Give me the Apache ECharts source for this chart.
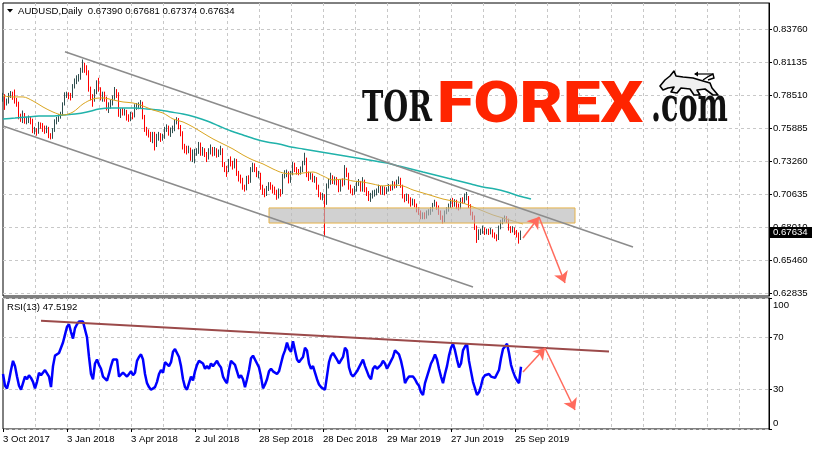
<!DOCTYPE html>
<html><head><meta charset="utf-8">
<script src="https://cdn.jsdelivr.net/npm/echarts@6/dist/echarts.min.js"></script>
<style>html,body{margin:0;padding:0;background:#fff}#c{width:815px;height:450px}</style>
</head><body><div id="c"></div>
<script>
// ---------- chart data ----------
const symbolTitle = 'AUDUSD,Daily';
const headerValues = '0.67390 0.67681 0.67374 0.67634';
const rsiTitle = 'RSI(13) 47.5192';
const lastPrice = 0.67634;
const dateLabels = ['3 Oct 2017','3 Jan 2018','3 Apr 2018','2 Jul 2018','28 Sep 2018','28 Dec 2018','29 Mar 2019','27 Jun 2019','25 Sep 2019'];
const priceTickValues = [0.62760,0.65385,0.68010,0.70635,0.73260,0.75885,0.78510,0.81135,0.83760];
const priceTickLabels = ['0.62835','0.65460','0.68010','0.70635','0.73260','0.75885','0.78510','0.81135','0.83760'];
const rsiTickValues = [0,30,70,100];

// each candle = 2 trading days
const opens = [
.7825,.7840,.7790,.7800,.7850,.7860,.7840,.7800,.7790,.7680,
.7670,.7690,.7650,.7650,.7660,.7650,.7570,.7570,.7560,.7620,
.7610,.7580,.7570,.7590,.7530,.7520,.7570,.7640,.7660,.7680,
.7700,.7780,.7860,.7860,.7850,.7840,.7920,.7960,.7980,.7990,
.8050,.8100,.8050,.8040,.7900,.7840,.7820,.7880,.7950,.7900,
.7830,.7850,.7820,.7760,.7770,.7790,.7830,.7890,.7860,.7700,
.7720,.7710,.7720,.7680,.7670,.7700,.7690,.7760,.7760,.7770,
.7790,.7680,.7580,.7560,.7540,.7500,.7540,.7460,.7520,.7530,
.7510,.7520,.7580,.7590,.7550,.7570,.7580,.7640,.7660,.7600,
.7550,.7440,.7420,.7410,.7420,.7350,.7400,.7400,.7400,.7460,
.7390,.7410,.7380,.7360,.7400,.7420,.7390,.7410,.7380,.7390,
.7420,.7300,.7270,.7260,.7320,.7310,.7290,.7330,.7230,.7190,
.7180,.7120,.7110,.7190,.7170,.7260,.7300,.7260,.7220,.7220,
.7120,.7090,.7080,.7110,.7130,.7120,.7100,.7090,.7060,.7090,
.7080,.7210,.7230,.7230,.7170,.7230,.7300,.7260,.7250,.7240,
.7260,.7310,.7340,.7220,.7200,.7210,.7180,.7180,.7120,.7060,
.7050,.7050,.7000,.7130,.7160,.7200,.7170,.7180,.7160,.7100,
.7170,.7150,.7260,.7220,.7120,.7090,.7080,.7100,.7150,.7160,
.7100,.7170,.7100,.7070,.7040,.7050,.7070,.7070,.7090,.7110,
.7080,.7110,.7080,.7100,.7120,.7110,.7150,.7130,.7160,.7190,
.7130,.7050,.7030,.7050,.7020,.7000,.7010,.6980,.6940,.6920,
.6880,.6900,.6880,.6920,.6920,.6940,.6980,.6990,.6960,.6920,
.6880,.6850,.6920,.6940,.6970,.7020,.6980,.7010,.6970,.6960,
.7020,.7010,.7040,.7040,.6970,.6910,.6880,.6800,.6740,.6760,
.6770,.6790,.6760,.6770,.6760,.6770,.6740,.6730,.6710,.6800,
.6840,.6860,.6880,.6860,.6790,.6770,.6790,.6760,.6750,.6710];
const closes = [
.7840,.7790,.7800,.7850,.7860,.7840,.7800,.7790,.7680,.7670,
.7690,.7650,.7650,.7660,.7650,.7570,.7570,.7560,.7620,.7610,
.7580,.7570,.7590,.7530,.7520,.7570,.7640,.7660,.7680,.7700,
.7780,.7860,.7860,.7850,.7840,.7920,.7960,.7980,.7990,.8050,
.8100,.8050,.8040,.7900,.7840,.7820,.7880,.7950,.7900,.7830,
.7850,.7820,.7760,.7770,.7790,.7830,.7890,.7860,.7700,.7720,
.7710,.7720,.7680,.7670,.7700,.7690,.7760,.7760,.7770,.7790,
.7680,.7580,.7560,.7540,.7500,.7540,.7460,.7520,.7530,.7510,
.7520,.7580,.7590,.7550,.7570,.7580,.7640,.7660,.7600,.7550,
.7440,.7420,.7410,.7420,.7350,.7400,.7400,.7400,.7460,.7390,
.7410,.7380,.7360,.7400,.7420,.7390,.7410,.7380,.7390,.7420,
.7300,.7270,.7260,.7320,.7310,.7290,.7330,.7230,.7190,.7180,
.7120,.7110,.7190,.7170,.7260,.7300,.7260,.7220,.7220,.7120,
.7090,.7080,.7110,.7130,.7120,.7100,.7090,.7060,.7090,.7080,
.7210,.7230,.7230,.7170,.7230,.7300,.7260,.7250,.7240,.7260,
.7310,.7340,.7220,.7200,.7210,.7180,.7180,.7120,.7060,.7050,
.7050,.7000,.7130,.7160,.7200,.7170,.7180,.7160,.7100,.7170,
.7150,.7260,.7220,.7120,.7090,.7080,.7100,.7150,.7160,.7100,
.7170,.7100,.7070,.7040,.7050,.7070,.7070,.7090,.7110,.7080,
.7110,.7080,.7100,.7120,.7110,.7150,.7130,.7160,.7190,.7130,
.7050,.7030,.7050,.7020,.7000,.7010,.6980,.6940,.6920,.6880,
.6900,.6880,.6920,.6920,.6940,.6980,.6990,.6960,.6920,.6880,
.6850,.6920,.6940,.6970,.7020,.6980,.7010,.6970,.6960,.7020,
.7010,.7040,.7040,.6970,.6910,.6880,.6800,.6740,.6760,.6770,
.6790,.6760,.6770,.6760,.6770,.6740,.6730,.6710,.6800,.6840,
.6860,.6880,.6860,.6790,.6770,.6790,.6760,.6750,.6710,.67634];
const highs = [
.7870,.7860,.7825,.7870,.7885,.7880,.7897,.7830,.7800,.7705,
.7730,.7710,.7680,.7690,.7680,.7665,.7600,.7590,.7640,.7635,
.7630,.7610,.7610,.7600,.7550,.7590,.7660,.7680,.7700,.7720,
.7795,.7875,.7880,.7875,.7870,.7940,.7985,.8010,.8020,.8070,
.8136,.8110,.8090,.8050,.7920,.7860,.7900,.7970,.7990,.7915,
.7880,.7880,.7840,.7795,.7815,.7850,.7917,.7900,.7875,.7745,
.7750,.7745,.7735,.7700,.7720,.7715,.7780,.7790,.7795,.7813,
.7800,.7695,.7600,.7580,.7560,.7560,.7560,.7545,.7560,.7550,
.7545,.7600,.7620,.7610,.7595,.7610,.7660,.7677,.7670,.7615,
.7565,.7465,.7450,.7450,.7435,.7420,.7425,.7430,.7480,.7475,
.7440,.7430,.7400,.7430,.7460,.7440,.7440,.7430,.7420,.7450,
.7430,.7320,.7290,.7345,.7365,.7330,.7350,.7345,.7250,.7220,
.7195,.7140,.7210,.7215,.7280,.7315,.7310,.7280,.7250,.7235,
.7140,.7110,.7130,.7160,.7160,.7140,.7125,.7100,.7110,.7105,
.7225,.7255,.7260,.7245,.7250,.7320,.7315,.7280,.7265,.7285,
.7330,.7394,.7355,.7245,.7240,.7230,.7210,.7200,.7140,.7080,
.7075,.7065,.7150,.7185,.7235,.7215,.7205,.7200,.7180,.7185,
.7190,.7296,.7275,.7235,.7140,.7110,.7130,.7170,.7185,.7170,
.7200,.7180,.7120,.7090,.7075,.7095,.7100,.7110,.7140,.7130,
.7130,.7125,.7120,.7145,.7140,.7170,.7165,.7180,.7206,.7195,
.7140,.7065,.7070,.7065,.7040,.7030,.7025,.6990,.6960,.6935,
.6920,.6920,.6935,.6945,.6960,.6995,.7020,.7005,.6975,.6935,
.6895,.6935,.6960,.6990,.7030,.7035,.7025,.7020,.6990,.7035,
.7040,.7070,.7082,.7050,.6985,.6925,.6895,.6815,.6785,.6790,
.6815,.6800,.6790,.6790,.6795,.6785,.6760,.6745,.6815,.6860,
.6875,.6895,.6890,.6870,.6810,.6810,.6800,.6780,.6760,.6775];
const lows = [
.7800,.7735,.7770,.7785,.7830,.7815,.7785,.7760,.7660,.7640,
.7630,.7625,.7620,.7630,.7620,.7550,.7540,.7530,.7545,.7585,
.7560,.7545,.7550,.7510,.7500,.7505,.7560,.7620,.7640,.7665,
.7690,.7770,.7830,.7820,.7810,.7830,.7905,.7940,.7960,.7975,
.8030,.8030,.8010,.7880,.7810,.7760,.7800,.7860,.7880,.7810,
.7800,.7800,.7730,.7710,.7745,.7770,.7815,.7830,.7680,.7670,
.7690,.7690,.7650,.7640,.7645,.7660,.7675,.7735,.7740,.7750,
.7660,.7560,.7530,.7515,.7480,.7470,.7412,.7440,.7490,.7480,
.7490,.7505,.7560,.7530,.7520,.7550,.7565,.7620,.7580,.7525,
.7420,.7390,.7380,.7390,.7330,.7320,.7310,.7370,.7385,.7370,
.7370,.7360,.7320,.7340,.7380,.7365,.7370,.7355,.7360,.7375,
.7280,.7240,.7202,.7240,.7285,.7260,.7270,.7210,.7165,.7150,
.7100,.7085,.7095,.7145,.7155,.7240,.7240,.7200,.7190,.7100,
.7060,.7040,.7050,.7090,.7100,.7070,.7060,.7020,.7030,.7045,
.7065,.7190,.7200,.7150,.7155,.7215,.7240,.7220,.7215,.7220,
.7240,.7295,.7200,.7170,.7180,.7160,.7155,.7100,.7040,.7020,
.7015,.6725,.6980,.7110,.7140,.7145,.7140,.7135,.7080,.7085,
.7125,.7135,.7200,.7100,.7070,.7055,.7060,.7085,.7130,.7085,
.7085,.7080,.7050,.7010,.7003,.7030,.7045,.7055,.7075,.7060,
.7060,.7055,.7065,.7085,.7090,.7095,.7110,.7115,.7145,.7115,
.7030,.7000,.7010,.6990,.6965,.6975,.6960,.6920,.6900,.6865,
.6865,.6865,.6870,.6895,.6900,.6925,.6965,.6940,.6900,.6860,
.6832,.6840,.6905,.6925,.6955,.6960,.6965,.6945,.6935,.6945,
.6990,.6995,.7015,.6955,.6895,.6860,.6780,.6677,.6700,.6740,
.6750,.6740,.6745,.6740,.6745,.6720,.6710,.6690,.6700,.6785,
.6825,.6845,.6835,.6775,.6755,.6760,.6740,.6720,.6671,.6700];

// moving averages (one value every 5 / 6 candles)
const maFastEvery = 5;
const maFast = [.7846,.7838,.7838,.7806,.7758,.7718,.7694,.7718,.7782,.7822,
.7830,.7814,.7798,.7790,.7766,.7734,.7710,.7663,.7639,.7599,
.7551,.7504,.7464,.7424,.7376,.7336,.7305,.7265,.7233,.7225,
.7233,.7241,.7209,.7177,.7185,.7169,.7161,.7145,.7130,.7137,
.7130,.7098,.7074,.7050,.7026,.7010,.6994,.6963,.6931,.6899,
.6875,.6851,.6827];
const maSlowEvery = 6;
const maSlow = [.7663,.7670,.7678,.7686,.7686,.7694,.7702,.7718,.7742,.7750,
.7750,.7750,.7742,.7734,.7718,.7702,.7678,.7647,.7607,.7567,
.7535,.7504,.7480,.7464,.7440,.7424,.7408,.7392,.7376,.7360,
.7344,.7328,.7312,.7288,.7265,.7241,.7217,.7193,.7169,.7145,
.7121,.7106,.7082,.7050,.7026];

const rsi = [
42,33,31,37,45,52,48,40,33,30, 35,40,38,41,39,36,31,36,43,41,
40,45,46,40,32,48,56,55,58,57, 66,72,78,80,74,69,77,80,82,81,
82,76,70,55,42,38,50,53,49,46, 40,39,37,42,48,53,54,53,40,39,
43,44,40,42,44,41,43,52,55,57, 53,42,35,32,30,31,32,36,42,45,
43,51,52,48,51,59,61,60,55,48, 38,32,30,35,40,37,44,49,52,53,
50,46,48,46,50,48,50,52,49,47, 40,37,35,45,52,51,49,50,39,41,
38,32,38,45,54,56,55,50,47,40, 31,34,38,44,46,44,45,42,44,50,
56,60,66,61,59,67,60,53,51,53, 55,62,60,50,46,48,43,38,34,32,
31,30,31,51,56,58,57,53,50,49, 55,62,60,47,42,40,42,44,47,48,
53,48,44,40,38,46,48,46,47,49, 52,50,46,49,52,55,60,59,57,52,
45,35,38,40,39,40,38,35,33,28, 26,35,40,45,50,53,57,53,46,40,
35,42,48,56,62,65,60,53,47,50, 60,63,65,52,44,36,31,26,28,33,
39,41,40,42,40,41,39,38,45,54, 61,63,65,58,49,44,40,37,35,47.5192];

// drawn annotations, in [candle index, value]
const channelUpper = [[31,0.8198],[315,0.6644]];
const channelLower = [[0,0.7607],[235,0.6326]];
const zone = [[133,0.6955],[286,0.6835]];
const priceArrows = [[[260,0.6716],[268,0.6883]],[[268,0.6883],[281,0.6358]]];
const rsiTrend = [[19,82.7],[303,59.2]];
const rsiArrows = [[[260,43.5],[271,61.8]],[[271,61.8],[286,14.5]]];

// ---------- layout ----------
const SLOTS = 384;
const priceAxisMin = 0.62546, priceAxisMax = 0.85852;
const FONT = '"Liberation Sans", Arial, sans-serif';
const GRID_LINE = {color:'#c8c8c8', type:[3,3], width:1};

const cats = Array.from({length: SLOTS}, (_, i) => String(i));
const candleData = closes.map((c, i) => [opens[i], c, lows[i], highs[i]]);
const labelIdx = (i) => i % 32 === 0 && i / 32 < dateLabels.length;

function xAxis(gridIndex, withLabels) {
  return {
    type:'category', gridIndex, data: cats, boundaryGap:false,
    axisLine:{show:false},
    axisTick:{show:withLabels, interval:(i)=>labelIdx(i), length:3, lineStyle:{color:'#000'}},
    axisLabel:{show:withLabels, interval:(i)=>labelIdx(i), formatter:(v,i)=>dateLabels[i/32]||'',
      align:'left', color:'#000', fontFamily:FONT, fontSize:9.6, margin:5},
    splitLine:{show:true, interval:(i)=> i % 16 === 0 && i > 0, lineStyle:GRID_LINE}
  };
}
const nearest = (arr, v) => { let b = 0; arr.forEach((a,i)=>{ if (Math.abs(a-v) < Math.abs(arr[b]-v)) b = i; }); return b; };

const arrowColor = '#ff6a5c';
function segs(list, style) { return list.map(s => [{coord:s[0], lineStyle:style}, {coord:s[1]}]); }

const chart = echarts.init(document.getElementById('c'), null, {renderer:'canvas'});
chart.setOption({
  animation:false,
  backgroundColor:'#fff',
  grid:[
    {left:3, top:3, width:766, height:293, show:true, borderColor:'#000', borderWidth:1},
    {left:3, top:298, width:766, height:131, show:true, borderColor:'#000', borderWidth:1}
  ],
  xAxis:[xAxis(0,false), xAxis(1,true)],
  yAxis:[
    {type:'value', gridIndex:0, position:'right', min:priceAxisMin, max:priceAxisMax,
      axisLine:{show:true, lineStyle:{color:'#000'}},
      axisTick:{show:true, customValues:priceTickValues, length:3, lineStyle:{color:'#000'}},
      axisLabel:{customValues:priceTickValues, formatter:(v)=>priceTickLabels[nearest(priceTickValues,v)],
        color:'#000', fontFamily:FONT, fontSize:9.6, margin:4},
      splitLine:{show:true, lineStyle:GRID_LINE}},
    {type:'value', gridIndex:1, position:'right', min:0, max:100,
      axisLine:{show:true, lineStyle:{color:'#000'}},
      axisTick:{show:true, customValues:rsiTickValues, length:3, lineStyle:{color:'#000'}},
      axisLabel:{customValues:rsiTickValues, color:'#000', fontFamily:FONT, fontSize:9.6, margin:4,
        formatter:(v)=> v===100 ? '{t|100}' : v===0 ? '{b|0}' : String(v),
        rich:{t:{padding:[14,0,0,0], fontFamily:FONT, fontSize:9.6, color:'#000'},
              b:{padding:[0,0,12,0], fontFamily:FONT, fontSize:9.6, color:'#000'}}},
      splitLine:{show:true, lineStyle:GRID_LINE}}
  ],
  series:[
    {type:'candlestick', xAxisIndex:0, yAxisIndex:0, data:candleData, barWidth:1, clip:false, z:2,
      itemStyle:{color:'#2f4f4f', color0:'#ff0000', borderColor:'#2f4f4f', borderColor0:'#ff0000', borderWidth:1}},
    {type:'line', xAxisIndex:0, yAxisIndex:0, data:maSlow.map((v,k)=>[k*maSlowEvery, v]), showSymbol:false, smooth:0.3,
      lineStyle:{color:'#20b2aa', width:1.5}, z:3, silent:true},
    {type:'line', xAxisIndex:0, yAxisIndex:0, data:maFast.map((v,k)=>[k*maFastEvery, v]), showSymbol:false, smooth:0.3,
      lineStyle:{color:'#daa520', width:1}, z:3, silent:true},
    {type:'line', xAxisIndex:0, yAxisIndex:0, data:[], z:4, silent:true,
      markArea:{silent:true, z:4, itemStyle:{color:'rgba(185,185,185,0.65)', borderColor:'#e6b34a', borderWidth:1},
        data:[[{coord:zone[0]},{coord:zone[1]}]]},
      markLine:{silent:true, symbol:['none','none'], label:{show:false}, animation:false,
        lineStyle:{color:'#8c8c8c', width:1.6, type:'solid'},
        data:segs([channelUpper, channelLower], {color:'#8c8c8c', width:1.6, type:'solid'})}},
    {type:'line', xAxisIndex:0, yAxisIndex:0, data:[], z:5, silent:true,
      markLine:{silent:true, symbol:['none','arrow'], symbolSize:11, label:{show:false}, animation:false,
        lineStyle:{color:arrowColor, width:1.5, type:'solid'},
        data:segs(priceArrows, {color:arrowColor, width:1.5, type:'solid'})}},
    {type:'line', xAxisIndex:1, yAxisIndex:1, data:rsi, showSymbol:false, z:3,
      lineStyle:{color:'#0000ff', width:2.5}, silent:true},
    {type:'line', xAxisIndex:1, yAxisIndex:1, data:[], z:4, silent:true,
      markLine:{silent:true, symbol:['none','none'], label:{show:false}, animation:false,
        lineStyle:{color:'#9b4a4a', width:2, type:'solid'},
        data:segs([rsiTrend], {color:'#9b4a4a', width:2, type:'solid'})}},
    {type:'line', xAxisIndex:1, yAxisIndex:1, data:[], z:5, silent:true,
      markLine:{silent:true, symbol:['none','arrow'], symbolSize:11, label:{show:false}, animation:false,
        lineStyle:{color:arrowColor, width:1.5, type:'solid'},
        data:segs(rsiArrows, {color:arrowColor, width:1.5, type:'solid'})}}
  ]
});

// ---------- text overlays ----------
function fitScale(text, font, width) {
  const ctx = document.createElement('canvas').getContext('2d');
  ctx.font = font; return width / ctx.measureText(text).width;
}
const torFont = 'bold 42px "DejaVu Serif"';
const forexFont = '900 58px Roboto';
const comFont = 'bold 48px "DejaVu Serif"';
const yLast = chart.convertToPixel({yAxisIndex:0}, lastPrice);

chart.setOption({graphic:[
  {type:'polygon', shape:{points:[[7,9],[13,9],[10,12.5]]}, style:{fill:'#000'}, z:20},
  {type:'text', x:18, y:11, style:{text:symbolTitle + '  ' + headerValues, font:'9.6px ' + FONT, fill:'#000', textVerticalAlign:'middle'}, z:20},
  {type:'text', x:7, y:307, style:{text:rsiTitle, font:'9.6px ' + FONT, fill:'#000', textVerticalAlign:'middle'}, z:20},
  {type:'rect', shape:{x:769, y:Math.round(yLast)-5, width:43, height:11}, style:{fill:'#000'}, z:20},
  {type:'text', x:773, y:Math.round(yLast)+0.5, style:{text:'0.67634', font:'9.6px ' + FONT, fill:'#fff', textVerticalAlign:'middle'}, z:21},
  {type:'text', x:362, y:110.5, scaleX:fitScale('TOR', torFont, 70), style:{text:'TOR', font:torFont, fill:'#111', textVerticalAlign:'middle'}, z:20},
  {type:'text', x:437, y:107, scaleX:fitScale('FOREX', forexFont, 206), style:{text:'FOREX', font:forexFont, fill:'#ff2400', textVerticalAlign:'middle'}, z:20},
  {type:'text', x:651, y:108.5, scaleX:fitScale('.com', comFont, 77), style:{text:'.com', font:comFont, fill:'#111', textVerticalAlign:'middle'}, z:20},
  {type:'polygon', shape:{points:[[660,86],[665,80],[670,76],[674,71],[676,76],[683,77],[693,78],[703,81],[710,83],[712,88],[718,95],[713,95],[705,89],[697,90],[700,95],[694,95],[690,89],[681,88],[677,93],[671,92],[674,87],[668,88],[663,90]]},
    style:{fill:'#f0f0f0', stroke:'#000', lineWidth:1.6, lineJoin:'round'}, z:20},
  {type:'polyline', shape:{points:[[703,80],[709,76],[713,74],[714,78],[708,80]]}, style:{stroke:'#000', lineWidth:1.4, fill:null}, z:20},
  {type:'polyline', shape:{points:[[713,74],[695,74]]}, style:{stroke:'#000', lineWidth:1.2}, z:20},
  {type:'polygon', shape:{points:[[694,74],[698,71.5],[698,76.5]]}, style:{fill:'#000'}, z:20}
]});
</script></body></html>
